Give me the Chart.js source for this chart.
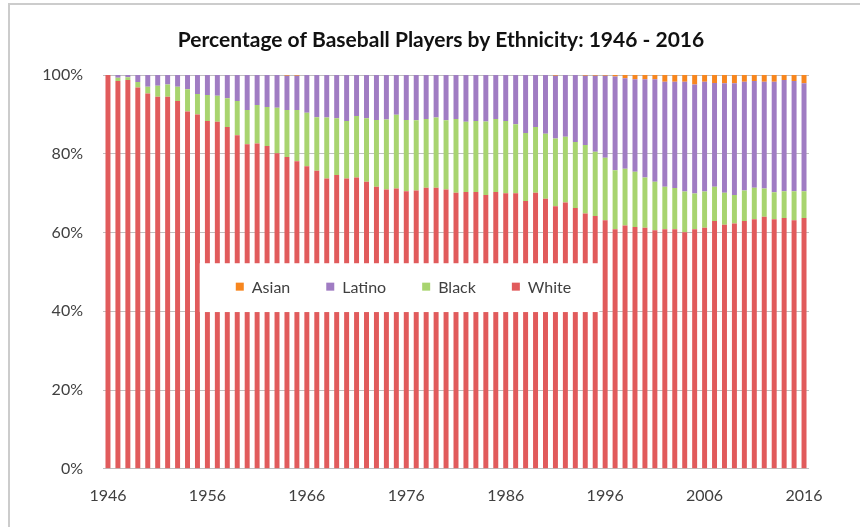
<!DOCTYPE html>
<html>
<head>
<meta charset="utf-8">
<script src="https://cdn.jsdelivr.net/npm/chart.js@4/dist/chart.umd.min.js"></script>
<style>
  html, body { margin: 0; padding: 0; background: #fff; }
  #wrap { width: 860px; height: 527px; }
</style>
</head>
<body>
<div id="wrap"><canvas id="grafik" width="860" height="527"></canvas></div>
<script>
// Data
const years = [];
for (let y = 1946; y <= 2016; y++) years.push(y);

const white = [100, 98.5, 98.7, 96.8, 95.3, 94.5, 94.5, 93.4, 90.7, 90.0,
    88.3, 88.1, 86.8, 84.7, 82.4, 82.6, 82.0, 80.1, 79.2, 78.1,
    76.8, 75.7, 73.7, 74.6, 73.7, 74.0, 72.9, 71.6, 70.9, 71.2,
    70.5, 70.7, 71.4, 71.4, 70.9, 70.1, 70.3, 70.3, 69.5, 70.3,
    70.0, 70.0, 68.0, 70.1, 68.6, 66.7, 67.6, 66.2, 64.8, 64.2,
    63.1, 60.8, 61.8, 61.4, 61.2, 60.6, 60.8, 60.8, 60.1, 60.8,
    61.2, 62.9, 62.0, 62.3, 62.9, 63.4, 64.0, 63.4, 63.7, 63.1,
    63.7];
const black = [0, 0.8, 0.7, 1.4, 1.7, 2.8, 3.1, 3.6, 5.7, 5.2,
    6.6, 6.6, 7.3, 8.7, 8.7, 9.8, 9.9, 11.6, 11.9, 13.0,
    13.6, 13.6, 15.5, 14.4, 14.6, 15.6, 16.1, 17.0, 17.8, 18.7,
    18.1, 17.8, 17.4, 17.8, 17.6, 18.7, 17.8, 18.0, 18.7, 18.5,
    18.3, 17.5, 17.3, 16.7, 16.5, 17.2, 16.7, 16.8, 17.4, 16.3,
    15.9, 15.0, 14.4, 14.0, 12.8, 12.3, 10.8, 10.5, 10.3, 9.1,
    9.2, 8.7, 8.1, 7.2, 7.8, 8.0, 7.2, 6.8, 6.8, 7.4,
    6.8];
const latino = [0, 0.7, 0.6, 1.8, 3.0, 2.7, 2.4, 3.0, 3.6, 4.8,
    5.1, 5.3, 5.9, 6.6, 8.9, 7.6, 8.1, 8.3, 8.7, 8.7,
    9.6, 10.7, 10.8, 11.0, 11.7, 10.4, 11.0, 11.4, 11.3, 10.1,
    11.4, 11.5, 11.2, 10.8, 11.5, 11.2, 11.9, 11.7, 11.8, 11.2,
    11.7, 12.5, 14.7, 13.2, 14.9, 15.9, 15.7, 17.0, 17.6, 19.3,
    20.8, 23.8, 23.0, 23.5, 24.9, 26.0, 26.7, 27.0, 27.9, 27.7,
    27.9, 26.4, 27.8, 28.4, 27.6, 27.1, 27.1, 28.1, 28.2, 28.0,
    27.4];
const asian = [0, 0, 0, 0, 0, 0, 0, 0, 0, 0,
    0, 0, 0, 0, 0, 0, 0, 0, 0.2, 0.2,
    0, 0, 0, 0, 0, 0, 0, 0, 0, 0,
    0, 0, 0, 0, 0, 0, 0, 0, 0, 0,
    0, 0, 0, 0, 0, 0.2, 0, 0, 0.2, 0.2,
    0.2, 0.4, 0.8, 1.1, 1.1, 1.1, 1.7, 1.7, 1.7, 2.4,
    1.7, 2.0, 2.1, 2.1, 1.7, 1.5, 1.7, 1.7, 1.3, 1.5,
    2.1];
const yTicks = [0, 20, 40, 60, 80, 100];
const judul = 'Percentage of Baseball Players by Ethnicity: 1946 - 2016';

const warna = { White: '#e15b5c', Black: '#a8d46f', Latino: '#a07cc3', Asian: '#f7861e' };
const fontFam = 'Lato, "Open Sans", sans-serif';

// Bingkai kiri & atas, plus judul
const framePlugin = {
    id: 'frame',
    beforeDraw(chart) {
        const c = chart.ctx;
        c.save();
        c.fillStyle = '#fff';
        c.fillRect(0, 0, chart.width, chart.height);
        c.strokeStyle = '#cccccc';
        c.lineWidth = 2;
        c.beginPath();
        c.moveTo(9, chart.height);
        c.lineTo(9, 4);
        c.lineTo(chart.width, 4);
        c.stroke();
        c.fillStyle = '#111';
        c.font = 'bold 21px ' + fontFam;
        c.textAlign = 'center';
        c.textBaseline = 'middle';
        c.fillText(judul, 441, 40);
        c.restore();
    }
};

// Legenda di dalam area plot dengan latar putih
const legendBox = {
    id: 'legendBox',
    afterDatasetsDraw(chart) {
        const c = chart.ctx;
        const a = chart.chartArea;
        const w = a.right - a.left, h = a.bottom - a.top;
        const x0 = a.left + 0.137 * w, x1 = a.left + 0.703 * w;
        const y0 = a.top + 0.478 * h, y1 = a.top + 0.602 * h;
        c.save();
        c.fillStyle = '#fff';
        c.fillRect(x0, y0, x1 - x0, y1 - y0);
        const items = ['Asian', 'Latino', 'Black', 'White'];
        c.font = '16px ' + fontFam;
        c.textBaseline = 'middle';
        const sq = 8, gapTxt = 8, gapItem = 36;
        const widths = items.map(t => sq + gapTxt + c.measureText(t).width);
        const total = widths.reduce((s, v) => s + v, 0) + gapItem * (items.length - 1);
        let x = (x0 + x1) / 2 - total / 2 + 4;
        const cy = (y0 + y1) / 2;
        items.forEach((t, i) => {
            c.fillStyle = warna[t];
            c.fillRect(x, cy - sq / 2 - 1, sq, sq);
            c.fillStyle = '#404040';
            c.fillText(t, x + sq + gapTxt, cy);
            x += widths[i] + gapItem;
        });
        c.restore();
    }
};

const ctx = document.getElementById('grafik').getContext('2d');
new Chart(ctx, {
    type: 'bar',
    data: {
        labels: years,
        datasets: [
            { label: 'White', data: white, backgroundColor: warna.White },
            { label: 'Black', data: black, backgroundColor: warna.Black },
            { label: 'Latino', data: latino, backgroundColor: warna.Latino },
            { label: 'Asian', data: asian, backgroundColor: warna.Asian }
        ]
    },
    options: {
        responsive: false,
        animation: false,
        layout: { padding: { left: 9, right: 51, top: 75, bottom: 13 } },
        datasets: { bar: { barPercentage: 0.5, categoryPercentage: 1.0 } },
        plugins: {
            legend: { display: false },
            tooltip: { enabled: false },
            title: { display: false }
        },
        scales: {
            x: {
                stacked: true,
                grid: { display: false },
                border: { display: false },
                ticks: {
                    autoSkip: false,
                    maxRotation: 0,
                    padding: 9,
                    color: '#404040',
                    font: { family: fontFam, size: 16 },
                    callback: function(value, i) {
                        const yr = years[i];
                        return (yr - 1946) % 10 === 0 ? String(yr) : '';
                    }
                }
            },
            y: {
                stacked: true,
                min: 0,
                max: 100,
                afterFit: s => { s.width = 94; },
                afterBuildTicks: s => { s.ticks = yTicks.map(v => ({ value: v })); },
                grid: { color: '#c0c0c0', lineWidth: 1, drawTicks: false },
                border: { display: false },
                ticks: {
                    padding: 20,
                    color: '#404040',
                    font: { family: fontFam, size: 16 },
                    callback: v => v + '%'
                }
            }
        }
    },
    plugins: [framePlugin, legendBox]
});
</script>
</body>
</html>
